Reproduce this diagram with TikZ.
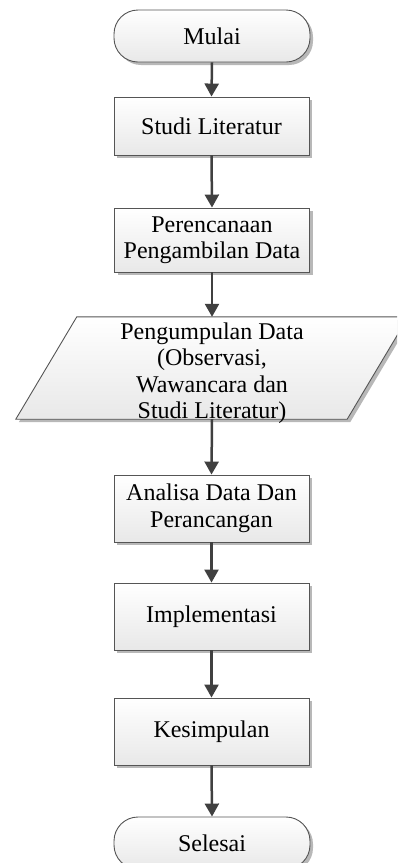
\documentclass[tikz,border=0pt]{standalone}
\usepackage{fontspec}
\setmainfont{Liberation Serif}
\usetikzlibrary{arrows.meta,shadows}
\definecolor{edgec}{HTML}{555555}
\definecolor{arrc}{HTML}{404040}
\tikzset{
 base/.style={draw=edgec, line width=0.9pt, top color=white, bottom color=black!9,
   drop shadow={shadow xshift=3pt, shadow yshift=-3pt, fill=black!28, opacity=1}},
 txt/.style={align=center, font=\fontsize{24}{26.5}\selectfont, inner sep=0pt},
 procbox/.style={base, txt, minimum width=195pt},
 termbox/.style={base, txt, rounded corners=24pt, minimum width=196pt, minimum height=52pt},
 flow/.style={arrc, line width=2.5pt, -{Triangle[length=13pt,width=14pt]}}
}
\begin{document}
\begin{tikzpicture}[x=1pt,y=-1pt]
\useasboundingbox (0,0) rectangle (397,863);
\clip (0,0) rectangle (397,863);
\node[termbox] (start) at (212,36) {Mulai};
\node[procbox, minimum height=58pt] (s1) at (211.5,126) {Studi Literatur};
\node[procbox, minimum height=64pt] (s2) at (212,240) {Perencanaan\\Pengambilan Data};
\node[inner sep=0pt, minimum width=331pt, minimum height=102pt] (pd) at (212,368) {};
\path[base] ([xshift=30.5pt]pd.north west) -- ([xshift=30.5pt]pd.north east)
  -- ([xshift=-30.5pt]pd.south east) -- ([xshift=-30.5pt]pd.south west) -- cycle;
\node[txt] (pdtext) at ([yshift=-5pt]pd.center)
  {Pengumpulan Data\\(Observasi,\\Wawancara dan\\Studi Literatur)};
\node[procbox, minimum height=67pt] (s3) at (211.5,508.5) {Analisa Data Dan\\Perancangan};
\node[procbox, minimum height=67pt] (s4) at (211.5,616.5) {Implementasi};
\node[procbox, minimum height=67pt] (s5) at (211.5,731.5) {Kesimpulan};
\node[termbox] (end) at (212,843) {Selesai};
\draw[flow] (start.south) -- (s1.north);
\draw[flow] (s1.south) -- (s2.north);
\draw[flow] (s2.south) -- (pd.north);
\draw[flow] (pd.south) -- (s3.north);
\draw[flow] (s3.south) -- (s4.north);
\draw[flow] (s4.south) -- (s5.north);
\draw[flow] (s5.south) -- (end.north);
\end{tikzpicture}
\end{document}
